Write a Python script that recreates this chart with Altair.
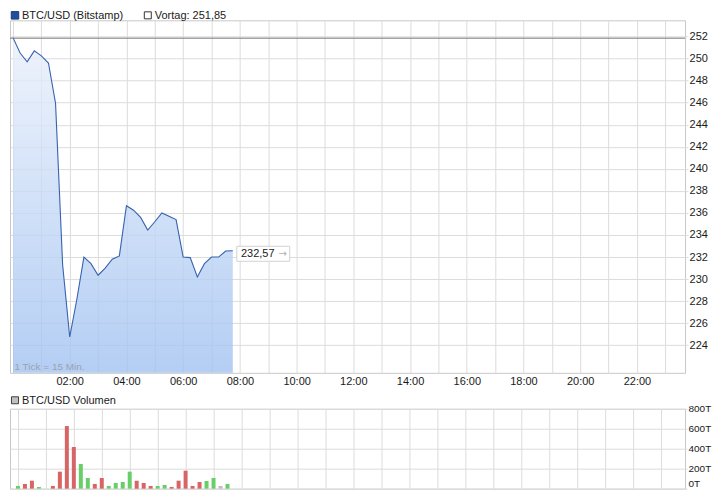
import altair as alt
import pandas as pd

# ---------------- data ----------------
times = ["00:00", "00:15", "00:30", "00:45", "01:00", "01:15", "01:30", "01:45",
         "02:00", "02:15", "02:30", "02:45", "03:00", "03:15", "03:30", "03:45",
         "04:00", "04:15", "04:30", "04:45", "05:00", "05:15", "05:30", "05:45",
         "06:00", "06:15", "06:30", "06:45", "07:00", "07:15", "07:30", "07:45"]
prices = [251.9, 250.5, 249.7, 250.7, 250.25, 249.6, 245.95, 231.3,
          224.75, 228.15, 232.0, 231.4, 230.35, 231.0, 231.8, 232.1,
          236.65, 236.25, 235.6, 234.45, 235.2, 236.0, 235.7, 235.4,
          232.0, 231.95, 230.2, 231.4, 232.0, 232.0, 232.55, 232.57]

vol_times = ["00:00", "00:15", "00:30", "00:45", "01:00", "01:15", "01:30", "01:45",
             "02:00", "02:15", "02:30", "02:45", "03:00", "03:15", "03:30", "03:45",
             "04:00", "04:15", "04:30", "04:45", "05:00", "05:15", "05:30", "05:45",
             "06:00", "06:15", "06:30", "06:45", "07:00", "07:15", "07:30"]
volumes = [27, 47, 80, 17, 0, 27, 170, 627,
           417, 247, 107, 47, 107, 27, 57, 67,
           170, 80, 57, 27, 27, 37, 17, 80,
           180, 27, 67, 77, 107, 27, 47]
vol_dir = ["up", "down", "down", "up", "down", "down", "down", "down",
           "down", "up", "up", "down", "down", "up", "up", "up",
           "up", "down", "down", "down", "up", "up", "down", "down",
           "down", "down", "down", "up", "up", "flat", "up"]

prev_close = 251.85
last_time = "07:45"
last_price = 232.57
last_label = "232,57"
series_name = "BTC/USD (Bitstamp)"
prev_name = "Vortag: 251,85"
volume_name = "BTC/USD Volumen"
tick_note = "1 Tick = 15 Min."

hour_grid = [0, 1, 2, 3, 4, 5, 6, 7, 8, 9, 10, 11, 12, 13, 14, 15, 16, 17, 18, 19, 20, 21, 22, 23]
price_ticks = [224, 226, 228, 230, 232, 234, 236, 238, 240, 242, 244, 246, 248, 250, 252]
volume_ticks = [0, 200, 400, 600, 800]


def to_hours(t):
    hh, mm = t.split(":")
    return int(hh) + int(mm) / 60.0


price_df = pd.DataFrame({"time": times, "h": [to_hours(t) for t in times], "price": prices})
vol_df = pd.DataFrame({"time": vol_times, "h": [to_hours(t) for t in vol_times],
                       "vol": volumes, "dir": vol_dir})

# ---------------- style ----------------
FONT = "Liberation Sans"
GRID = "#dcdcdc"
LINE = "#3762ae"
RED = "#d76565"
GREEN = "#68cf68"
FLAT = "#c9b8cc"
TEXT = "#1a1a1a"

W = 676
PX_PER_HOUR = 28.4
X_DOMAIN = [-0.106, -0.106 + W / PX_PER_HOUR]
Y_DOMAIN = [221.5, 253.47]

x_scale = alt.Scale(domain=X_DOMAIN, nice=False, zero=False)
y_scale = alt.Scale(domain=Y_DOMAIN, nice=False, zero=False)

label_expr = ("datum.value % 2 == 0 && datum.value > 0 ? "
              "(datum.value < 10 ? '0' : '') + datum.value + ':00' : ''")

x_price = alt.X("h:Q", scale=x_scale, title=None,
                axis=alt.Axis(values=hour_grid, tickCount=50, labelExpr=label_expr, grid=True,
                              gridColor=GRID, ticks=False, domain=False, labelPadding=3,
                              labelFontSize=11, labelColor=TEXT, labelOverlap=False,
                              labelFlush=False, labelFont=FONT))
y_axis_price = alt.Axis(orient="right", values=price_ticks, tickCount=50, format="d", grid=True,
                        gridColor=GRID, tickColor=GRID, tickSize=3, labelPadding=1,
                        domain=False, labelFontSize=11, labelColor=TEXT, labelFont=FONT,
                        labelOverlap=False, labelFlush=False)
y_price = alt.Y("price:Q", scale=y_scale, title=None, axis=y_axis_price)

base = alt.Chart(price_df)

area = base.mark_area(
    fill=alt.Gradient(gradient="linear",
                      stops=[alt.GradientStop(color="#eaf0fb", offset=0),
                             alt.GradientStop(color="#a1c2f1", offset=1)],
                      x1=0, x2=0, y1=0, y2=1),
    fillOpacity=0.8, line=False,
).encode(x=x_price, y=y_price, y2=alt.datum(Y_DOMAIN[0]))

line = base.mark_line(color=LINE, strokeWidth=1.1).encode(
    x=alt.X("h:Q", scale=x_scale, title=None),
    y=alt.Y("price:Q", scale=y_scale, title=None, axis=y_axis_price))

prev_rule = alt.Chart(pd.DataFrame({"price": [prev_close]})).mark_rule(
    color="#777777", strokeWidth=1).encode(
    y=alt.Y("price:Q", scale=y_scale, title=None, axis=y_axis_price))

last_df = pd.DataFrame({"h": [to_hours(last_time)], "price": [last_price], "label": [last_label]})
last_box = alt.Chart(last_df).mark_point(
    shape="M-1,-0.283L1,-0.283L1,0.283L-1,0.283Z", size=2809, filled=True,
    fill="white", stroke="#d2d2d2", strokeWidth=1, opacity=1, fillOpacity=1,
    xOffset=30.5, yOffset=3,
).encode(x="h:Q", y="price:Q")
last_text = alt.Chart(last_df).mark_text(
    align="center", baseline="middle", dx=25, dy=3, fontSize=11, font=FONT, color=TEXT
).encode(x="h:Q", y="price:Q", text="label:N")
last_arrow = alt.Chart(last_df).mark_text(
    align="center", baseline="middle", dx=50, dy=3, fontSize=10, font="DejaVu Sans", color="#b0b0b0"
).encode(x="h:Q", y="price:Q", text=alt.value("→"))

note = alt.Chart(pd.DataFrame({"t": [tick_note]})).mark_text(
    align="left", baseline="alphabetic", fontSize=10, font=FONT, color="#9aa2ae"
).encode(x=alt.value(4.5), y=alt.value(350), text="t:N")

leg_sq1 = alt.Chart(pd.DataFrame({"a": [0]})).mark_square(
    size=56, fill="#1f4f9f", stroke="#1a3c78", strokeWidth=1, opacity=1
).encode(x=alt.value(5), y=alt.value(-5))
leg_tx1 = alt.Chart(pd.DataFrame({"t": [series_name]})).mark_text(
    align="left", baseline="alphabetic", fontSize=11, font=FONT, color=TEXT
).encode(x=alt.value(12), y=alt.value(-1), text="t:N")
leg_sq2 = alt.Chart(pd.DataFrame({"a": [0]})).mark_square(
    size=49, fill="white", stroke="#333333", strokeWidth=1, opacity=1
).encode(x=alt.value(138), y=alt.value(-5))
leg_tx2 = alt.Chart(pd.DataFrame({"t": [prev_name]})).mark_text(
    align="left", baseline="alphabetic", fontSize=11, font=FONT, color=TEXT
).encode(x=alt.value(145), y=alt.value(-1), text="t:N")

price_chart = alt.layer(
    area, line, prev_rule, last_box, last_text, last_arrow, note,
    leg_sq1, leg_tx1, leg_sq2, leg_tx2
).properties(width=W, height=353)

# ---------------- volume panel ----------------
x_vol = alt.X("h:Q", scale=x_scale, title=None,
              axis=alt.Axis(values=hour_grid, tickCount=50, labels=False, grid=True,
                            gridColor=GRID, ticks=False, domain=False))
y_vol = alt.Y("vol:Q", scale=alt.Scale(domain=[0, 800], nice=False), title=None,
              axis=alt.Axis(orient="right", values=volume_ticks, tickCount=50,
                            labelExpr="datum.value + 'T'",
                            grid=True, gridColor=GRID, tickColor=GRID, tickSize=2, labelPadding=1,
                            domain=False, labelFontSize=10, labelColor=TEXT, labelFont=FONT,
                            labelOverlap=False, labelFlush=False,
                            labelBaseline={"condition": {"test": "datum.value == 0", "value": "bottom"},
                                           "value": "middle"}))

bars = alt.Chart(vol_df).mark_bar(width=4).encode(
    x=x_vol, y=y_vol,
    color=alt.Color("dir:N", scale=alt.Scale(domain=["up", "down", "flat"],
                                             range=[GREEN, RED, FLAT]), legend=None),
)
leg_sq3 = alt.Chart(pd.DataFrame({"a": [0]})).mark_square(
    size=49, fill="#c0c0c0", stroke="#404040", strokeWidth=1, opacity=1
).encode(x=alt.value(5), y=alt.value(-8.5))
leg_tx3 = alt.Chart(pd.DataFrame({"t": [volume_name]})).mark_text(
    align="left", baseline="alphabetic", fontSize=11, font=FONT, color=TEXT
).encode(x=alt.value(12), y=alt.value(-4.5), text="t:N")

vol_chart = alt.layer(bars, leg_sq3, leg_tx3).properties(width=W, height=80)

chart = alt.vconcat(price_chart, vol_chart, spacing=36, bounds="flush").properties(
    padding={"left": 0, "top": 0, "right": 0, "bottom": 0}
).configure(font=FONT).configure_view(stroke="#c8c8c8", strokeWidth=1)

chart.save("out.html", embed_options={"renderer": "svg", "actions": False})
